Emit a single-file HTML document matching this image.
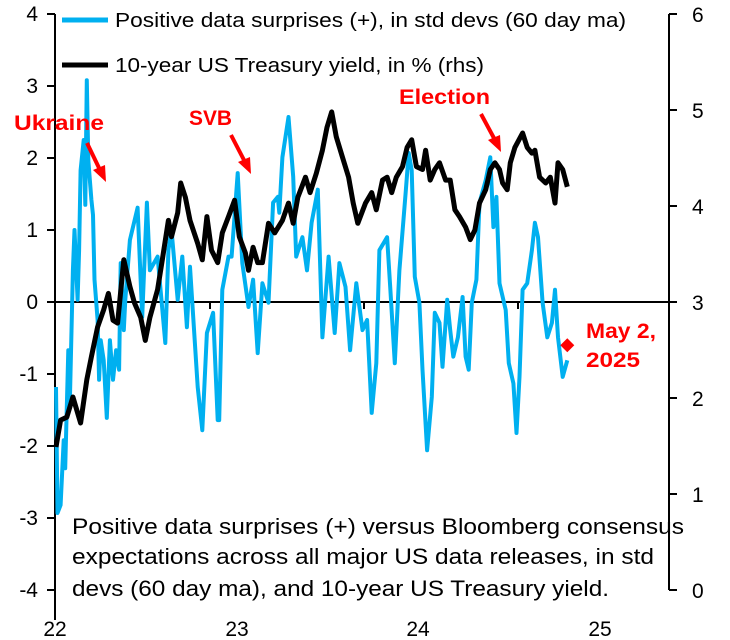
<!DOCTYPE html>
<html><head><meta charset="utf-8"><style>
body{margin:0;background:#fff;}
svg{display:block;font-family:"Liberation Sans",sans-serif;}
</style></head><body>
<svg id="chart" width="730" height="640" viewBox="0 0 730 640" xmlns="http://www.w3.org/2000/svg">
<g id="axes"></g>
<g id="series"></g>
<g id="legend">
 <line x1="62" y1="20" x2="108" y2="20" stroke="#00B0F0" stroke-width="5"/>
 <text x="115" y="27" font-size="20" textLength="511" lengthAdjust="spacingAndGlyphs">Positive data surprises (+), in std devs (60 day ma)</text>
 <line x1="62" y1="65" x2="108" y2="65" stroke="#000" stroke-width="5"/>
 <text x="115" y="72" font-size="20" textLength="369" lengthAdjust="spacingAndGlyphs">10-year US Treasury yield, in % (rhs)</text>
</g>
<g id="annotations" fill="#FF0000" font-weight="bold" font-size="21">
 <text x="14" y="130" textLength="90" lengthAdjust="spacingAndGlyphs">Ukraine</text>
 <line x1="87" y1="143" x2="100" y2="170" stroke="#FF0000" stroke-width="4"/>
 <polygon points="106,182 93,170 105,165"/>
 <text x="189" y="125" textLength="43" lengthAdjust="spacingAndGlyphs">SVB</text>
 <line x1="231" y1="135" x2="245" y2="162" stroke="#FF0000" stroke-width="4"/>
 <polygon points="251,174 238,162 250,157"/>
 <text x="399" y="104" textLength="91" lengthAdjust="spacingAndGlyphs">Election</text>
 <line x1="481" y1="114" x2="495" y2="140" stroke="#FF0000" stroke-width="4"/>
 <polygon points="501,152 488,140 500,135"/>
 <text x="586" y="338" textLength="70" lengthAdjust="spacingAndGlyphs">May 2,</text>
 <text x="586" y="367" textLength="54" lengthAdjust="spacingAndGlyphs">2025</text>
</g>
<g id="note" font-size="22" fill="#000">
 <text x="72" y="534" textLength="612" lengthAdjust="spacingAndGlyphs">Positive data surprises (+) versus Bloomberg consensus</text>
 <text x="72" y="564" textLength="582" lengthAdjust="spacingAndGlyphs">expectations across all major US data releases, in std</text>
 <text x="72" y="596" textLength="537" lengthAdjust="spacingAndGlyphs">devs (60 day ma), and 10-year US Treasury yield.</text>
</g>
</svg>
<script>
const leftTicks=[4,3,2,1,0,-1,-2,-3,-4];
const rightTicks=[6,5,4,3,2,1,0];
const yearLabels=["22","23","24","25"];
const yearLabelX=[55,237,418,600];
const yearTicks=[1,2,3];
const surpriseT=[0,.01,.03,.05,.06,.08,.09,.11,.12,.14,.15,.16,.18,.19,.20,.21,.23,.24,.25,.27,.28,.29,.31,.33,.35,.37,.39,.41,.42,.44,.45,.48,.53,.56,.59,.61,.66,.71,.73,.75,.79,.82,.85,.87,.92,.95,.98,1.02,1.05,1.06,1.08,1.12,1.14,1.18,1.21,1.25,1.28,1.31,1.34,1.38,1.41,1.44,1.45,1.47,1.51,1.54,1.56,1.60,1.63,1.66,1.70,1.73,1.77,1.81,1.84,1.88,1.91,1.95,1.99,2.02,2.05,2.08,2.10,2.15,2.17,2.20,2.23,2.27,2.29,2.31,2.33,2.36,2.38,2.41,2.44,2.46,2.49,2.51,2.54,2.56,2.58,2.61,2.64,2.66,2.68,2.70,2.73,2.75,2.79,2.82,2.84,2.86,2.88,2.92,2.94,2.97,2.99,3.01,3.03,3.06,3.09,3.11,3.13,3.16,3.19,3.22,3.24,3.26,3.29,3.32];
const surpriseV=[-1.18,-2.93,-2.82,-1.92,-2.31,-0.67,-1.36,0.44,1.00,0.03,0.72,1.83,2.25,1.35,3.08,1.97,1.42,1.21,0.31,-0.25,-1.08,-0.53,-0.81,-1.61,-0.53,-1.08,-0.67,-0.94,0.54,-0.39,0.03,0.86,1.31,-0.21,1.38,0.44,0.63,-0.57,0.72,1.00,0.03,0.63,-0.35,0.49,-1.18,-1.78,-0.43,-0.15,-1.64,-1.64,0.17,0.63,0.63,1.79,0.54,-0.07,0.31,-0.71,0.26,-0.01,1.38,1.46,1.24,2.01,2.57,1.74,0.63,0.90,0.44,1.10,1.56,-0.49,0.63,-0.43,0.54,0.21,-0.67,0.26,-0.39,-0.25,-1.54,-0.85,0.72,0.90,0.21,-0.85,0.44,1.51,2.07,1.83,0.35,-0.01,-0.94,-2.06,-1.32,-0.15,-0.29,-0.90,0.03,-0.39,-0.76,-0.49,0.07,-0.76,-0.94,-0.01,0.31,1.38,1.69,2.01,1.04,1.46,0.26,-0.11,-0.85,-1.13,-1.82,-1.04,0.17,0.26,0.72,1.10,0.90,-0.01,-0.49,-0.29,0.17,-0.49,-1.04,-0.81];
const yieldT=[0,.03,.07,.11,.16,.20,.23,.27,.31,.34,.37,.40,.44,.48,.51,.55,.58,.61,.66,.69,.73,.75,.79,.81,.84,.87,.92,.95,.98,1.01,1.05,1.08,1.12,1.16,1.19,1.23,1.25,1.28,1.31,1.34,1.38,1.42,1.47,1.51,1.54,1.57,1.62,1.65,1.69,1.73,1.76,1.79,1.82,1.86,1.90,1.93,1.96,2.01,2.05,2.08,2.12,2.15,2.18,2.21,2.25,2.28,2.31,2.34,2.38,2.40,2.43,2.46,2.49,2.53,2.56,2.59,2.62,2.66,2.69,2.72,2.75,2.79,2.82,2.85,2.88,2.90,2.93,2.95,2.98,3.03,3.06,3.09,3.11,3.14,3.18,3.21,3.24,3.26,3.29,3.32];
const yieldV=[1.49,1.77,1.80,2.01,1.74,2.19,2.43,2.74,2.92,3.09,2.81,2.78,3.44,3.16,2.99,2.84,2.60,2.84,3.13,3.44,3.85,3.68,3.93,4.24,4.09,3.85,3.61,3.44,3.89,3.54,3.41,3.72,3.89,4.06,3.68,3.51,3.33,3.57,3.41,3.41,3.82,3.72,3.85,4.03,3.82,4.09,4.30,4.14,4.34,4.58,4.82,4.98,4.72,4.51,4.30,4.03,3.82,4.03,4.14,3.96,4.27,4.30,4.14,4.30,4.41,4.61,4.69,4.41,4.38,4.58,4.27,4.38,4.45,4.27,4.27,3.96,3.89,3.78,3.65,3.75,4.03,4.17,4.38,4.45,4.38,4.24,4.17,4.45,4.61,4.76,4.61,4.55,4.58,4.30,4.24,4.30,4.03,4.45,4.38,4.20];
const latestT=[3.32];
const latestV=[-0.6];

const NS="http://www.w3.org/2000/svg";
const X0=56,YEARPX=154,XR=669;
const xs=t=>X0+t*YEARPX;
const yl=v=>302-72*v;
const yr=v=>590-96*v;
function mk(tag,attrs,parent){const e=document.createElementNS(NS,tag);for(const k in attrs)e.setAttribute(k,attrs[k]);parent.appendChild(e);return e;}
const axes=document.getElementById('axes');
let e=mk('line',{x1:55,y1:14,x2:55,y2:620,stroke:'#000','stroke-width':2},axes);


e=mk('line',{x1:XR,y1:14,x2:XR,y2:590,stroke:'#000','stroke-width':2},axes);


leftTicks.forEach(v=>{
 mk('line',{x1:47,y1:yl(v),x2:55,y2:yl(v),stroke:'#000','stroke-width':2},axes);
 const t=mk('text',{x:38,y:yl(v)+7,'text-anchor':'end','font-size':21},axes);t.textContent=v;
 
 
});
rightTicks.forEach(v=>{
 mk('line',{x1:XR,y1:yr(v),x2:XR+8,y2:yr(v),stroke:'#000','stroke-width':2},axes);
 const t=mk('text',{x:692,y:yr(v)+8,'font-size':21},axes);t.textContent=v;
 
 
});
e=mk('line',{x1:55,y1:yl(0),x2:XR,y2:yl(0),stroke:'#000','stroke-width':2},axes);


yearTicks.forEach(t=>{mk('line',{x1:xs(t),y1:yl(0),x2:xs(t),y2:yl(0)+7,stroke:'#000','stroke-width':2},axes);});
yearLabels.forEach((l,i)=>{
 const t=mk('text',{x:yearLabelX[i],y:636,'text-anchor':'middle','font-size':21},axes);t.textContent=l;
 
 
});
const ser=document.getElementById('series');
const p1=mk('polyline',{points:surpriseT.map((t,i)=>xs(t).toFixed(1)+','+yl(surpriseV[i]).toFixed(1)).join(' '),fill:'none',stroke:'#00B0F0','stroke-width':4,'stroke-linejoin':'round'},ser);


const p2=mk('polyline',{points:yieldT.map((t,i)=>xs(t).toFixed(1)+','+yr(yieldV[i]).toFixed(1)).join(' '),fill:'none',stroke:'#000','stroke-width':5,'stroke-linejoin':'round'},ser);


const dx=xs(latestT[0]),dy=yl(latestV[0]);
const d=mk('polygon',{points:`${dx},${dy-7} ${dx+7},${dy} ${dx},${dy+7} ${dx-7},${dy}`,fill:'#FF0000'},ser);


</script>
</body></html>
